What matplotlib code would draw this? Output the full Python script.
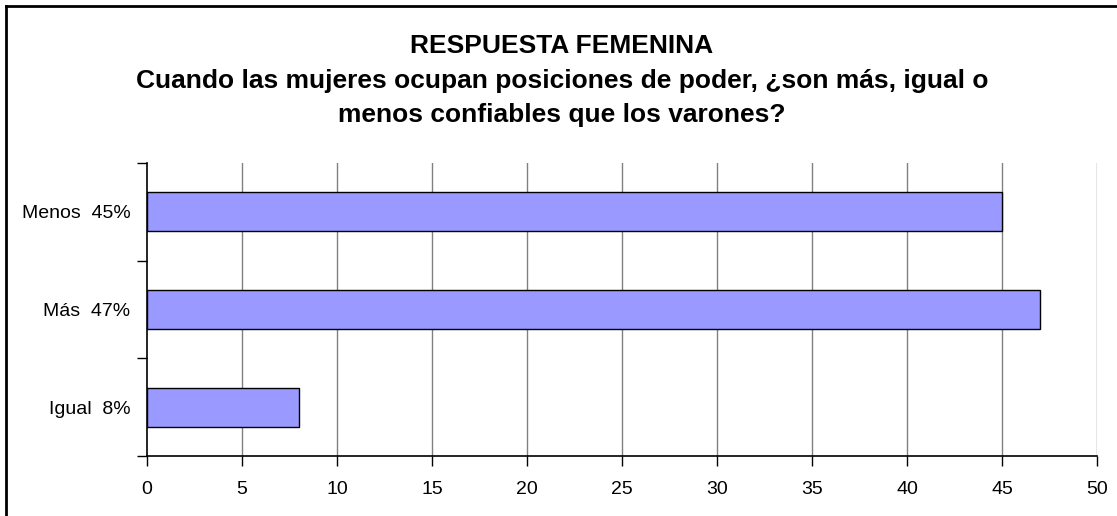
import matplotlib
matplotlib.use("Agg")
import matplotlib.pyplot as plt
from matplotlib.lines import Line2D
from matplotlib.ticker import FixedLocator

categories = ["Igual  8%", "Más  47%", "Menos  45%"]
values = [8, 47, 45]
xticks = [0, 5, 10, 15, 20, 25, 30, 35, 40, 45, 50]
title_lines = ["RESPUESTA FEMENINA",
               "Cuando las mujeres ocupan posiciones de poder, ¿son más, igual o",
               "menos confiables que los varones?"]

plt.rcParams['font.family'] = ['Liberation Sans', 'DejaVu Sans']

W, H = 1117, 516
fig = plt.figure(figsize=(W / 100, H / 100), dpi=100)
ax = fig.add_axes([147 / W, (H - 456) / H, 950 / W, 293 / H])

y = range(len(categories))
ax.barh(y, values, height=0.4, color='#9999FF', edgecolor='black', linewidth=1.0, zorder=3)
ax.set_xlim(0, 50)
ax.set_ylim(-0.5, 2.5)
ax.set_xticks(xticks)
ax.set_xticklabels([str(t) for t in xticks])
ax.set_yticks(list(y))
ax.set_yticklabels(categories)
ax.yaxis.set_minor_locator(FixedLocator([-0.5, 0.5, 1.5, 2.5]))
ax.tick_params(axis='y', which='major', length=0, pad=12, labelsize=14)
ax.tick_params(axis='y', which='minor', length=7, width=1, direction='out', color='black')
ax.tick_params(axis='x', which='major', length=7, width=1, direction='out', pad=11, labelsize=14)
for x in xticks[1:]:
    ax.axvline(x, color='#808080', linewidth=1, zorder=1)
for s in ['top', 'right']:
    ax.spines[s].set_visible(False)
for s in ['left', 'bottom']:
    ax.spines[s].set_color('black')
    ax.spines[s].set_linewidth(1.2)

tys = [53, 88, 122]
for line, ty in zip(title_lines, tys):
    fig.text(562 / W, 1 - ty / H, line, ha='center', va='baseline',
             fontsize=19, fontweight='bold', color='black')

fig.add_artist(Line2D([6 / W, 6 / W], [0, 1 - 6 / H], color='black', linewidth=2, transform=fig.transFigure))
fig.add_artist(Line2D([6 / W, 1], [1 - 6 / H, 1 - 6 / H], color='black', linewidth=2, transform=fig.transFigure))

fig.savefig("out.png", dpi=100)
